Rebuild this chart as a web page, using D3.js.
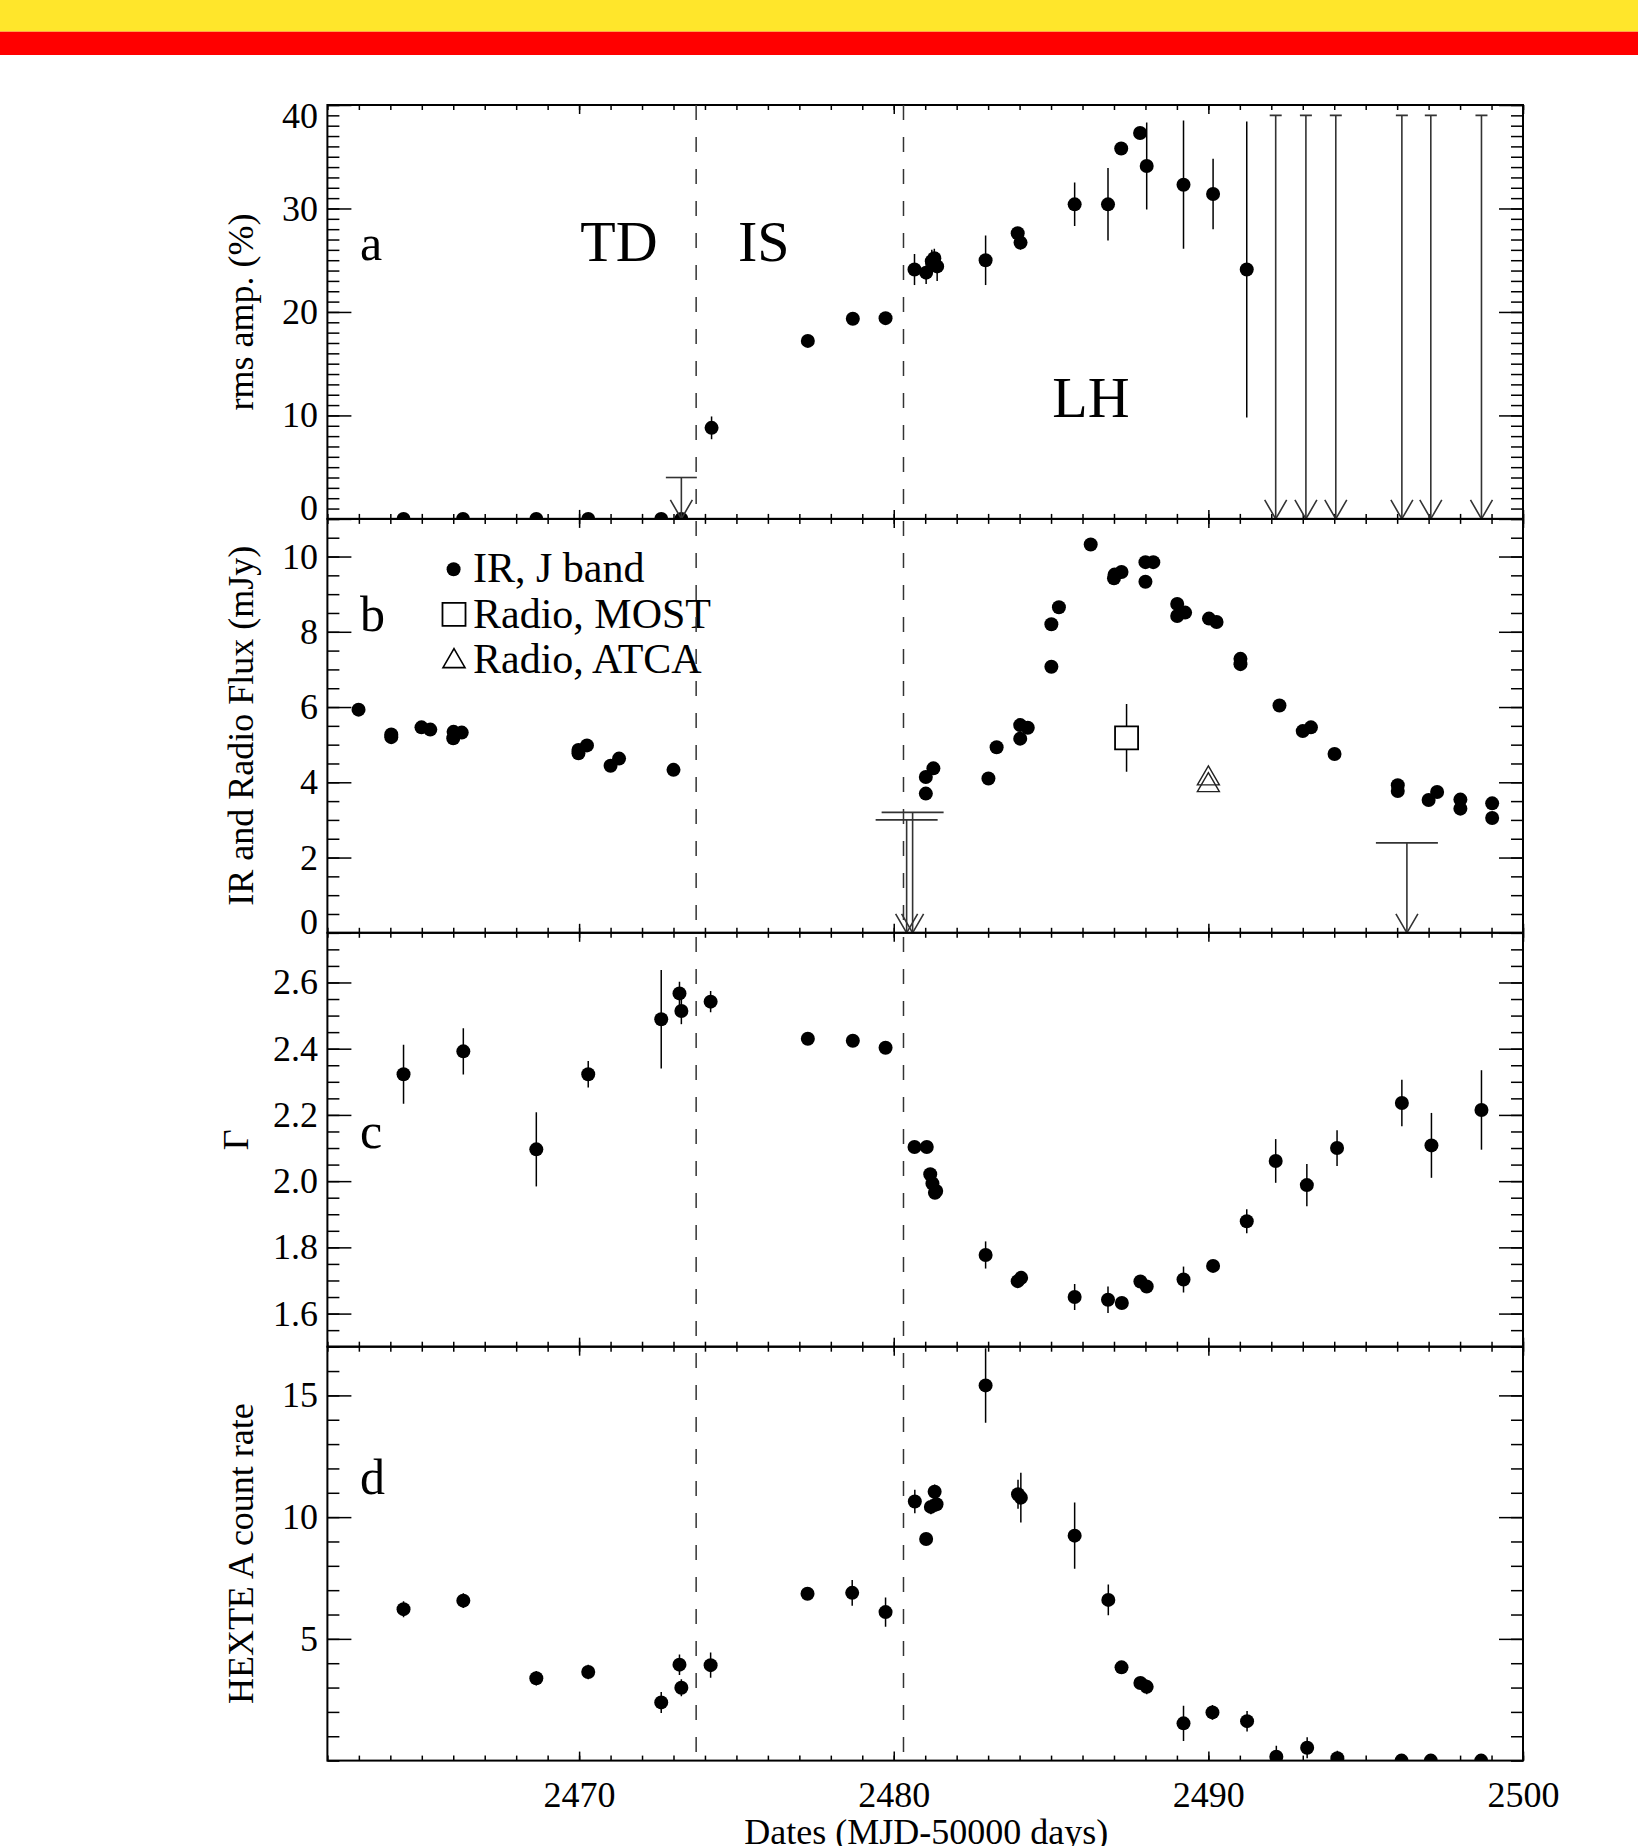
<!DOCTYPE html>
<html>
<head>
<meta charset="utf-8">
<script src="https://cdn.jsdelivr.net/npm/d3@7"></script>
<style>
  body { margin: 0; background: #fff; }
  svg { display: block; }
</style>
</head>
<body>
<svg id="chart"></svg>
<script>
// ---- data ----

// x axis (MJD - 50000)
const dateTicks = [2470, 2480, 2490, 2500];
const stateDates = [2473.72, 2480.31];

// panel a: rms amplitude (%)
const rmsDates  = [2464.42, 2466.31, 2468.64, 2470.29, 2472.61, 2473.25, 2474.21, 2477.27, 2478.70, 2479.74,
                   2480.66, 2481.03, 2481.21, 2481.29, 2481.38, 2482.92, 2483.94, 2484.03, 2485.75, 2486.81,
                   2487.23, 2487.83, 2488.04, 2489.21, 2490.15, 2491.22];
const rmsValues = [0, 0, 0, 0, 0, 0, 8.8, 17.2, 19.35, 19.4,
                   24.1, 23.8, 24.9, 25.2, 24.4, 25.0, 27.6, 26.7, 30.4, 30.4,
                   35.8, 37.3, 34.1, 32.3, 31.4, 24.1];
const rmsErrors = [0, 0, 0, 0, 0, 0, 1.1, 0.2, 0.3, 0.5,
                   1.5, 1.1, 1.1, 0.9, 1.4, 2.4, 0.6, 0.7, 2.1, 3.5,
                   0, 0, 4.2, 6.2, 3.4, 14.3];
const rmsLimitTDDates  = [2473.25];
const rmsLimitTDValues = [4.0];
const rmsLimitLHDates  = [2492.14, 2493.10, 2494.05, 2496.15, 2497.07, 2498.68];
const rmsLimitLHValues = [39, 39, 39, 39, 39, 39];
const rmsTicks = [0, 10, 20, 30, 40];

// panel b: IR (J band) and radio flux (mJy)
const irDates  = [2462.99, 2464.03, 2464.03, 2464.99, 2465.27, 2466.00, 2466.01, 2466.27, 2469.98, 2469.98,
                  2470.25, 2471.00, 2471.27, 2473.00, 2481.02, 2481.02, 2481.26, 2483.01, 2483.27, 2484.02,
                  2484.02, 2484.26, 2485.01, 2485.01, 2485.25, 2486.26, 2487.00, 2487.02, 2487.24, 2488.00,
                  2488.00, 2488.25, 2489.01, 2489.01, 2489.26, 2490.02, 2490.26, 2491.02, 2491.02, 2492.26,
                  2493.00, 2493.26, 2494.01, 2496.02, 2496.02, 2497.00, 2497.27, 2498.01, 2498.01, 2499.02,
                  2499.02];
const irValues = [5.93, 5.27, 5.20, 5.46, 5.40, 5.17, 5.34, 5.32, 4.77, 4.86,
                  4.98, 4.44, 4.63, 4.33, 3.70, 4.14, 4.37, 4.10, 4.93, 5.16,
                  5.52, 5.45, 7.07, 8.20, 8.65, 10.32, 9.42, 9.52, 9.59, 9.33,
                  9.85, 9.85, 8.74, 8.42, 8.51, 8.35, 8.26, 7.28, 7.14, 6.04,
                  5.36, 5.46, 4.75, 3.92, 3.77, 3.53, 3.74, 3.54, 3.30, 3.44,
                  3.05];
const irLimitDates  = [2480.41, 2480.60, 2496.31];
const irLimitValues = [3.0, 3.2, 2.39];
const mostDates  = [2487.40];
const mostValues = [5.18];
const mostErrors = [0.9];
const atcaDates  = [2490.0, 2490.0];
const atcaValues = [4.10, 3.92];
const fluxTicks = [0, 2, 4, 6, 8, 10];
const legendLabels = ['IR, J band', 'Radio, MOST', 'Radio, ATCA'];

// panel c: photon index
const gammaDates  = [2464.42, 2466.32, 2468.64, 2470.29, 2472.61, 2473.19, 2473.25, 2474.18, 2477.27, 2478.70,
                     2479.74, 2480.66, 2481.05, 2481.16, 2481.23, 2481.31, 2481.35, 2482.92, 2483.94, 2484.05,
                     2485.75, 2486.81, 2487.25, 2487.84, 2488.04, 2489.21, 2490.15, 2491.22, 2492.14, 2493.13,
                     2494.09, 2496.15, 2497.09, 2498.68];
const gammaValues = [2.323, 2.392, 2.096, 2.323, 2.489, 2.567, 2.514, 2.542, 2.430, 2.424,
                     2.403, 2.103, 2.103, 2.021, 1.993, 1.965, 1.970, 1.777, 1.698, 1.708,
                     1.650, 1.642, 1.632, 1.697, 1.682, 1.703, 1.744, 1.879, 2.061, 1.988,
                     2.100, 2.236, 2.108, 2.215];
const gammaErrors = [0.089, 0.07, 0.112, 0.04, 0.149, 0.035, 0.04, 0.032, 0.01, 0.01,
                     0.01, 0.01, 0.01, 0.015, 0.015, 0.015, 0.01, 0.041, 0.01, 0.01,
                     0.039, 0.04, 0.01, 0.01, 0.01, 0.039, 0.01, 0.036, 0.066, 0.064,
                     0.054, 0.07, 0.098, 0.12];
const gammaTicks = [1.6, 1.8, 2.0, 2.2, 2.4, 2.6];

// panel d: HEXTE A count rate
const hexteDates  = [2464.42, 2466.32, 2468.64, 2470.29, 2472.61, 2473.19, 2473.25, 2474.18, 2477.26, 2478.68,
                     2479.74, 2480.67, 2481.03, 2481.18, 2481.30, 2481.36, 2482.92, 2483.95, 2484.04, 2485.75,
                     2486.82, 2487.24, 2487.84, 2488.04, 2489.21, 2490.13, 2491.23, 2492.16, 2493.14, 2494.10,
                     2496.14, 2497.07, 2498.67];
const hexteValues = [6.22, 6.57, 3.38, 3.64, 2.39, 3.94, 2.99, 3.92, 6.85, 6.89,
                     6.10, 10.64, 9.10, 10.42, 11.04, 10.53, 15.41, 10.94, 10.80, 9.24,
                     6.60, 3.83, 3.19, 3.03, 1.53, 1.98, 1.62, 0.16, 0.53, 0.10,
                     0, 0, 0];
const hexteErrors = [0.33, 0.3, 0.3, 0.3, 0.43, 0.42, 0.35, 0.52, 0.25, 0.53,
                     0.6, 0.48, 0.2, 0.3, 0.3, 0.3, 1.53, 0.6, 1.02, 1.36,
                     0.63, 0.2, 0.2, 0.3, 0.72, 0.3, 0.42, 0.45, 0.43, 0.3,
                     0, 0, 0];
const hexteTicks = [5, 10, 15];

// ---- layout ----
const W = 1638, H = 1846;
const plotLeft = 327.4, plotRight = 1523;
const panelTop = 105, panelH = 413.9;
const font = '"Liberation Serif", "Times New Roman", Times, serif';
const tickFont = 36;
const dotR = 7;

const svg = d3.select('#chart').attr('width', W).attr('height', H);

// header bands
svg.append('rect').attr('x', 0).attr('y', 0).attr('width', W).attr('height', 31.7).attr('fill', '#ffe62b');
svg.append('rect').attr('x', 0).attr('y', 31.7).attr('width', W).attr('height', 23.3).attr('fill', '#ff0000');

const x = d3.scaleLinear().domain([2462, 2500]).range([plotLeft, plotRight]);

const points = (xs, ys, es) => xs.map((d, i) => ({ x: d, y: ys[i], e: es ? es[i] : 0 }));

const panels = [
  { key: 'a', domain: [0, 40], ticks: rmsTicks, minor: 1, fmt: d3.format('d'), title: 'rms amp. (%)' },
  { key: 'b', domain: [0, 11], ticks: fluxTicks, minor: 0.5, fmt: d3.format('d'), title: 'IR and Radio Flux (mJy)' },
  { key: 'c', domain: [1.5, 2.75], ticks: gammaTicks, minor: 0.05, fmt: d3.format('.1f'), title: 'Γ' },
  { key: 'd', domain: [0, 17], ticks: hexteTicks, minor: 1, fmt: d3.format('d'), title: 'HEXTE A count rate' }
];

function styleAxis(sel) {
  sel.select('.domain').remove();
  sel.selectAll('line').attr('stroke', '#000').attr('stroke-width', 1.5);
  sel.attr('font-family', font).attr('font-size', tickFont);
  sel.selectAll('text').attr('fill', '#000')
    .attr('font-family', font).attr('font-size', tickFont);
}

const minorDates = d3.range(2462, 2501);

panels.forEach((p, i) => {
  const top = panelTop + i * panelH;
  const bottom = top + panelH;
  const y = d3.scaleLinear().domain(p.domain).range([bottom, top]);
  p.y = y; p.top = top; p.bottom = bottom;

  const g = svg.append('g').attr('class', 'panel-' + p.key);

  const n0 = Math.round(p.domain[0] / p.minor), n1 = Math.round(p.domain[1] / p.minor);
  const minors = d3.range(n0, n1 + 1).map(k => +(k * p.minor).toFixed(3));

  // y axes (left with labels, right mirrored)
  g.append('g').attr('transform', `translate(${plotLeft},0)`)
    .call(d3.axisLeft(y).tickValues(minors).tickSize(-12).tickFormat(''))
    .call(styleAxis);
  g.append('g').attr('transform', `translate(${plotLeft},0)`)
    .call(d3.axisLeft(y).tickValues(p.ticks).tickSize(-24).tickPadding(9.5).tickFormat(p.fmt))
    .call(styleAxis)
    .selectAll('text')
    .attr('y', d => {
      const ty = y(d);
      if (ty < top + 10.5) return top + 10.5 - ty;
      if (ty > bottom - 10.5) return bottom - 10.5 - ty;
      return 0;
    });
  g.append('g').attr('transform', `translate(${plotRight},0)`)
    .call(d3.axisRight(y).tickValues(minors).tickSize(-12).tickFormat(''))
    .call(styleAxis);
  g.append('g').attr('transform', `translate(${plotRight},0)`)
    .call(d3.axisRight(y).tickValues(p.ticks).tickSize(-24).tickFormat(''))
    .call(styleAxis);

  // x axes (top and bottom, inward)
  g.append('g').attr('transform', `translate(0,${top})`)
    .call(d3.axisTop(x).tickValues(minorDates).tickSize(-5).tickFormat(''))
    .call(styleAxis);
  g.append('g').attr('transform', `translate(0,${top})`)
    .call(d3.axisTop(x).tickValues(dateTicks).tickSize(-9).tickFormat(''))
    .call(styleAxis);
  g.append('g').attr('transform', `translate(0,${bottom})`)
    .call(d3.axisBottom(x).tickValues(minorDates).tickSize(-5).tickFormat(''))
    .call(styleAxis);
  g.append('g').attr('transform', `translate(0,${bottom})`)
    .call(d3.axisBottom(x).tickValues(dateTicks).tickSize(-9).tickPadding(20.5)
      .tickFormat(i === panels.length - 1 ? d3.format('d') : ''))
    .call(styleAxis);

  // frame
  g.append('rect')
    .attr('x', plotLeft).attr('y', top)
    .attr('width', plotRight - plotLeft).attr('height', panelH)
    .attr('fill', 'none').attr('stroke', '#000').attr('stroke-width', 2);

  // y title
  g.append('text')
    .attr('transform', `translate(${p.key === 'c' ? 248 : 253},${(top + bottom) / 2}) rotate(-90)`)
    .attr('text-anchor', 'middle')
    .attr('font-family', font).attr('font-size', 36)
    .text(p.title);

  // panel letter
  g.append('text')
    .attr('x', 360).attr('y', top + [155, 112, 215, 147][i])
    .attr('font-family', font).attr('font-size', 50)
    .text(p.key);

  // clip region for marks
  svg.append('clipPath').attr('id', 'clip-' + p.key)
    .append('rect').attr('x', plotLeft).attr('y', top)
    .attr('width', plotRight - plotLeft).attr('height', panelH);
  p.marks = svg.append('g').attr('clip-path', `url(#clip-${p.key})`);
});

// ---- mark helpers ----
function errorDots(p, data) {
  const y = p.y;
  p.marks.append('g').selectAll('line')
    .data(data.filter(d => d.e > 0))
    .join('line')
    .attr('x1', d => x(d.x)).attr('x2', d => x(d.x))
    .attr('y1', d => y(d.y - d.e)).attr('y2', d => y(d.y + d.e))
    .attr('stroke', '#000').attr('stroke-width', 1.5);
  p.marks.append('g').selectAll('circle')
    .data(data)
    .join('circle')
    .attr('cx', d => x(d.x)).attr('cy', d => y(d.y))
    .attr('r', dotR).attr('fill', '#000');
}

function upperLimits(p, data, capHalf) {
  const y = p.y;
  const base = y(p.domain[0]);
  const g = p.marks.append('g')
    .attr('stroke', '#333').attr('stroke-width', 1.6).attr('fill', 'none');
  const sel = g.selectAll('g').data(data).join('g');
  sel.append('line')
    .attr('x1', d => x(d.x)).attr('x2', d => x(d.x))
    .attr('y1', d => y(d.y)).attr('y2', base);
  sel.append('line')
    .attr('x1', d => x(d.x) - capHalf).attr('x2', d => x(d.x) + capHalf)
    .attr('y1', d => y(d.y)).attr('y2', d => y(d.y));
  sel.append('path')
    .attr('d', d => `M${x(d.x) - 11},${base - 19}L${x(d.x)},${base}L${x(d.x) + 11},${base - 19}`);
}

const [pa, pb, pc, pd] = panels;

// panel a
errorDots(pa, points(rmsDates, rmsValues, rmsErrors));
upperLimits(pa, points(rmsLimitTDDates, rmsLimitTDValues), 15.5);
upperLimits(pa, points(rmsLimitLHDates, rmsLimitLHValues), 6);

// panel b
errorDots(pb, points(irDates, irValues));
upperLimits(pb, points(irLimitDates, irLimitValues), 31);
const square = d3.symbol().type(d3.symbolSquare).size(530);
const triangle = d3.symbol().type(d3.symbolTriangle).size(210);
points(mostDates, mostValues, mostErrors).forEach(d => {
  pb.marks.append('line')
    .attr('x1', x(d.x)).attr('x2', x(d.x))
    .attr('y1', pb.y(d.y - d.e)).attr('y2', pb.y(d.y + d.e))
    .attr('stroke', '#000').attr('stroke-width', 1.5);
  pb.marks.append('path').attr('d', square())
    .attr('transform', `translate(${x(d.x)},${pb.y(d.y)})`)
    .attr('fill', '#fff').attr('stroke', '#000').attr('stroke-width', 1.8);
});
pb.marks.append('g').selectAll('path')
  .data(points(atcaDates, atcaValues))
  .join('path')
  .attr('d', triangle())
  .attr('transform', d => `translate(${x(d.x)},${pb.y(d.y)})`)
  .attr('fill', 'none').attr('stroke', '#222').attr('stroke-width', 1.4);

// legend (panel b)
const legend = svg.append('g').attr('font-family', font).attr('font-size', 42);
const legendY = [581.7, 628.3, 673.3];
legend.append('circle').attr('cx', 453.6).attr('cy', legendY[0] - 12.5).attr('r', dotR).attr('fill', '#000');
legend.append('path').attr('d', square()).attr('transform', `translate(454,${legendY[1] - 14})`)
  .attr('fill', 'none').attr('stroke', '#000').attr('stroke-width', 1.8);
legend.append('path').attr('d', triangle()).attr('transform', `translate(454,${legendY[2] - 12})`)
  .attr('fill', 'none').attr('stroke', '#000').attr('stroke-width', 1.6);
legend.selectAll('text.lab')
  .data(legendLabels)
  .join('text')
  .attr('class', 'lab')
  .attr('x', 473).attr('y', (d, i) => legendY[i])
  .text(d => d);

// panels c and d
errorDots(pc, points(gammaDates, gammaValues, gammaErrors));
errorDots(pd, points(hexteDates, hexteValues, hexteErrors));

// state boundaries
svg.append('g').selectAll('line')
  .data(stateDates)
  .join('line')
  .attr('x1', d => x(d)).attr('x2', d => x(d))
  .attr('y1', panelTop).attr('y2', panelTop + 4 * panelH)
  .attr('stroke', '#333').attr('stroke-width', 1.5)
  .attr('stroke-dasharray', '15,17');

// state labels
const states = svg.append('g').attr('font-family', font).attr('font-size', 58);
states.append('text').attr('x', 619).attr('y', 261).attr('text-anchor', 'middle').text('TD');
states.append('text').attr('x', 738).attr('y', 261).text('IS');
states.append('text').attr('x', 1091).attr('y', 416.5).attr('text-anchor', 'middle').text('LH');

// x title (cut by the lower page edge, as in the source figure)
svg.append('text')
  .attr('x', (plotLeft + plotRight) / 2 + 1).attr('y', 1844)
  .attr('text-anchor', 'middle')
  .attr('font-family', font).attr('font-size', 36)
  .text('Dates (MJD-50000 days)');
</script>
</body>
</html>
